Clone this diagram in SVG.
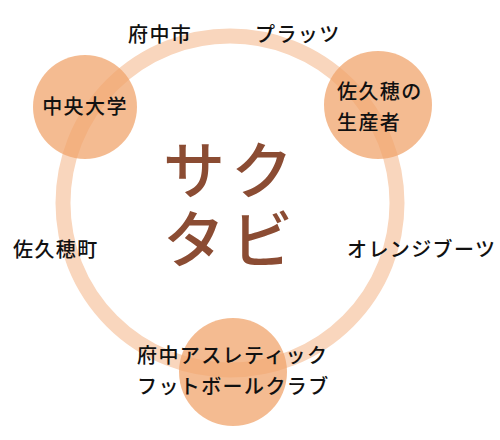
<svg xmlns="http://www.w3.org/2000/svg" width="500" height="440" viewBox="0 0 500 440">
<style>
.ring{fill:none;stroke:#f9d6bd;stroke-width:15}
.node{fill:#f0a46c;fill-opacity:0.75}
.lbl{font-family:"Noto Sans CJK JP","Noto Sans",sans-serif;font-size:20px;font-weight:500;letter-spacing:1.4px;fill:#111}
.title{font-family:"Noto Sans CJK JP","Noto Sans",sans-serif;font-size:62px;font-weight:500;fill:#8b4c33;letter-spacing:6px}
</style>
<rect width="500" height="440" fill="#fff"/>
<g id="connectors">
<circle class="ring" cx="230" cy="203" r="167"/>
<text class="lbl" x="128" y="42">府中市</text>
<text class="lbl" x="255" y="42">プラッツ</text>
<text class="lbl" x="13" y="257">佐久穂町</text>
<text class="lbl" x="347" y="257">オレンジブーツ</text>
</g>
<g id="chuo">
<circle class="node" cx="85" cy="107" r="52"/>
<text class="lbl" x="85" y="113.5" text-anchor="middle">中央大学</text>
</g>
<g id="sakuho-producer">
<circle class="node" cx="378" cy="105" r="54"/>
<text class="lbl" x="337" y="99">佐久穂の</text>
<text class="lbl" x="337" y="129.5">生産者</text>
</g>
<g id="fuchu-athletic">
<circle class="node" cx="233" cy="372" r="54"/>
<text class="lbl" x="137" y="363">府中アスレティック</text>
<text class="lbl" x="137" y="394">フットボールクラブ</text>
</g>
<g id="title">
<text class="title" x="163" y="194">サク</text>
<text class="title" x="163" y="263">タビ</text>
</g>
</svg>
